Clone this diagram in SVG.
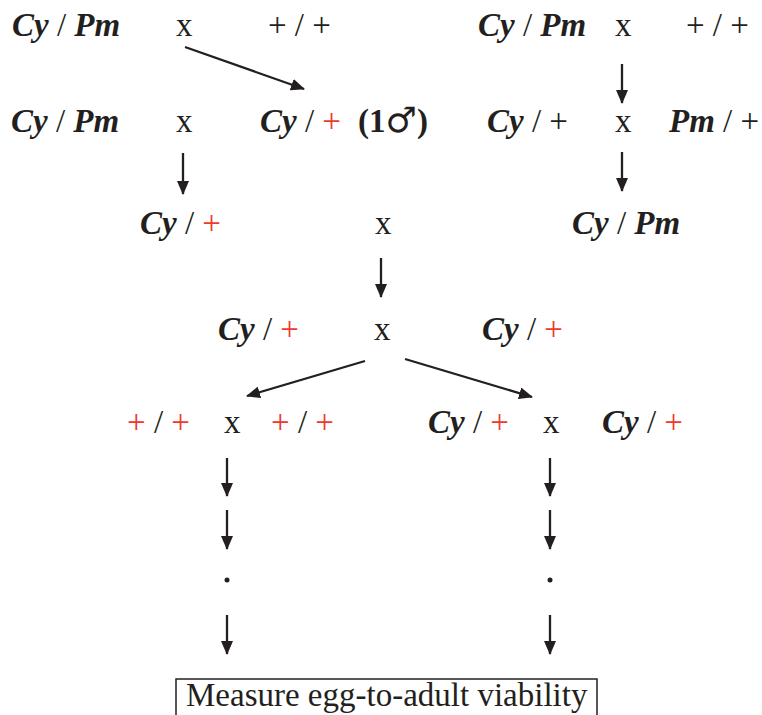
<svg xmlns="http://www.w3.org/2000/svg" width="762" height="715" viewBox="0 0 762 715">
<style>
text{font-family:"Liberation Serif","Times New Roman",serif;font-size:33px;fill:#231f20}
.bi{font-weight:bold;font-style:italic}
.b{font-weight:bold}
.r{fill:#ee3a2c}
.sym{font-family:"DejaVu Sans",sans-serif;font-weight:normal;font-size:35px}
.ln{stroke:#231f20;stroke-width:2.3;fill:none;marker-end:url(#ah)}
</style>
<defs>
<marker id="ah" markerUnits="userSpaceOnUse" markerWidth="14" markerHeight="12" viewBox="0 0 14 12" refX="13" refY="6" orient="auto">
<path d="M0,0 L14,6 L0,12 z" fill="#231f20"/>
</marker>
</defs>
<rect width="762" height="715" fill="#fff"/>
<g id="row1-left">
<text x="12" y="36"><tspan class="bi">Cy</tspan> / <tspan class="bi">Pm</tspan></text>
<text x="176" y="36">x</text>
<text x="268" y="36">+ / +</text>
</g>
<g id="row1-right">
<text x="478" y="36"><tspan class="bi">Cy</tspan> / <tspan class="bi">Pm</tspan></text>
<text x="615" y="36">x</text>
<text x="686" y="36">+ / +</text>
</g>
<g id="row2-left">
<text x="11" y="132"><tspan class="bi">Cy</tspan> / <tspan class="bi">Pm</tspan></text>
<text x="176" y="132">x</text>
<text x="260" y="132"><tspan class="bi">Cy</tspan> / <tspan class="r">+</tspan></text>
<text x="358" y="132" class="b">(1<tspan class="sym">♂</tspan>)</text>
</g>
<g id="row2-right">
<text x="487" y="132"><tspan class="bi">Cy</tspan> / +</text>
<text x="615" y="132">x</text>
<text x="669" y="132"><tspan class="bi">Pm</tspan> / +</text>
</g>
<g id="row3">
<text x="140" y="234"><tspan class="bi">Cy</tspan> / <tspan class="r">+</tspan></text>
<text x="375" y="234">x</text>
<text x="572" y="234"><tspan class="bi">Cy</tspan> / <tspan class="bi">Pm</tspan></text>
</g>
<g id="row4">
<text x="218" y="340"><tspan class="bi">Cy</tspan> / <tspan class="r">+</tspan></text>
<text x="374" y="340">x</text>
<text x="482" y="340"><tspan class="bi">Cy</tspan> / <tspan class="r">+</tspan></text>
</g>
<g id="row5-left">
<text x="127" y="433"><tspan class="r">+</tspan> / <tspan class="r">+</tspan></text>
<text x="224" y="433">x</text>
<text x="271" y="433"><tspan class="r">+</tspan> / <tspan class="r">+</tspan></text>
</g>
<g id="row5-right">
<text x="428" y="433"><tspan class="bi">Cy</tspan> / <tspan class="r">+</tspan></text>
<text x="543" y="433">x</text>
<text x="602" y="433"><tspan class="bi">Cy</tspan> / <tspan class="r">+</tspan></text>
</g>
<g id="result">
<rect x="176" y="679" width="421" height="44" fill="none" stroke="#231f20" stroke-width="1.5"/>
<text x="186" y="706">Measure egg-to-adult viability</text>
</g>
<g id="connectors">
<line class="ln" x1="185" y1="47" x2="304" y2="89"/>
<line class="ln" x1="622" y1="64" x2="622" y2="103"/>
<line class="ln" x1="622" y1="152" x2="622" y2="191"/>
<line class="ln" x1="183" y1="153" x2="183" y2="194"/>
<line class="ln" x1="381" y1="258" x2="381" y2="297"/>
<line class="ln" x1="365" y1="361" x2="247" y2="396"/>
<line class="ln" x1="405" y1="359" x2="532" y2="397"/>
<line class="ln" x1="227" y1="458" x2="227" y2="496"/>
<line class="ln" x1="227" y1="510" x2="227" y2="549"/>
<line class="ln" x1="227" y1="615" x2="227" y2="654"/>
<line class="ln" x1="550" y1="458" x2="550" y2="496"/>
<line class="ln" x1="550" y1="510" x2="550" y2="549"/>
<line class="ln" x1="550" y1="615" x2="550" y2="654"/>
<circle cx="227" cy="580" r="2.5" fill="#231f20"/>
<circle cx="550" cy="580" r="2.5" fill="#231f20"/>
</g>
</svg>
